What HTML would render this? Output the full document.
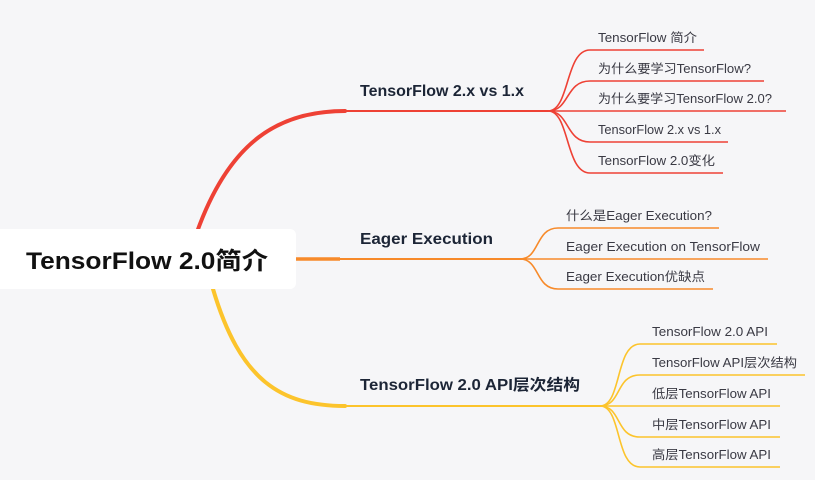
<!DOCTYPE html>
<html><head><meta charset="utf-8"><style>
html,body{margin:0;padding:0;background:#f6f6f8;}
svg{display:block}
text{font-family:"Liberation Sans","Noto Sans CJK SC",sans-serif;}
.c{font-size:12.5px;fill:#3a3a44}
.m{font-size:15.5px;font-weight:bold;fill:#1c2536}
</style></head><body>
<svg width="815" height="480" viewBox="0 0 815 480">
<rect width="815" height="480" fill="#f6f6f8"/>
<path d="M197 232 C230 140 280 111 345 111" fill="none" stroke="#ee4135" stroke-width="4" stroke-linecap="round"/>
<path d="M340 111 L548 111" stroke="#ee4135" stroke-width="2" fill="none"/>
<g fill="none" stroke="#ee4135" stroke-width="1.6">
<path d="M548 111 C570 111 565 50 590 50 L704 50"/>
<path d="M548 111 C570 111 565 81 590 81 L764 81"/>
<path d="M548 111 L786 111"/>
<path d="M548 111 C570 111 565 142 590 142 L728 142"/>
<path d="M548 111 C570 111 565 173 590 173 L723 173"/>
</g>
<path d="M296 259 L340 259" stroke="#f78a2a" stroke-width="3.5"/>
<path d="M340 259 L522 259" stroke="#f78a2a" stroke-width="2"/>
<g fill="none" stroke="#f78a2a" stroke-width="1.6">
<path d="M520 259 C540 259 535 228 558 228 L719 228"/>
<path d="M520 259 L768 259"/>
<path d="M520 259 C540 259 535 289 558 289 L713 289"/>
</g>
<path d="M213 289 C240 380 280 406 345 406" fill="none" stroke="#fcc42c" stroke-width="4" stroke-linecap="round"/>
<path d="M340 406 L602 406" stroke="#fcc42c" stroke-width="2"/>
<g fill="none" stroke="#fcc42c" stroke-width="1.6">
<path d="M600 406 C622 406 615 344 640 344 L777 344"/>
<path d="M600 406 C622 406 615 375 640 375 L805 375"/>
<path d="M600 406 L780 406"/>
<path d="M600 406 C622 406 615 437 640 437 L780 437"/>
<path d="M600 406 C622 406 615 467 640 467 L780 467"/>
</g>
<rect x="-6" y="229" width="302" height="60" rx="6" fill="#ffffff"/>
<text x="26" y="269" font-size="24" font-weight="bold" fill="#111" textLength="242" lengthAdjust="spacingAndGlyphs">TensorFlow 2.0简介</text>
<text class="m" x="360" y="96" textLength="164" lengthAdjust="spacingAndGlyphs">TensorFlow 2.x vs 1.x</text>
<text class="m" x="360" y="244" textLength="133" lengthAdjust="spacingAndGlyphs">Eager Execution</text>
<text class="m" x="360" y="390" textLength="220" lengthAdjust="spacingAndGlyphs">TensorFlow 2.0 API层次结构</text>
<text class="c" x="598" y="42" textLength="99" lengthAdjust="spacingAndGlyphs">TensorFlow 简介</text>
<text class="c" x="598" y="73" textLength="153" lengthAdjust="spacingAndGlyphs">为什么要学习TensorFlow?</text>
<text class="c" x="598" y="103" textLength="174" lengthAdjust="spacingAndGlyphs">为什么要学习TensorFlow 2.0?</text>
<text class="c" x="598" y="134" textLength="123" lengthAdjust="spacingAndGlyphs">TensorFlow 2.x vs 1.x</text>
<text class="c" x="598" y="165" textLength="117" lengthAdjust="spacingAndGlyphs">TensorFlow 2.0变化</text>
<text class="c" x="566" y="220" textLength="146" lengthAdjust="spacingAndGlyphs">什么是Eager Execution?</text>
<text class="c" x="566" y="251" textLength="194" lengthAdjust="spacingAndGlyphs">Eager Execution on TensorFlow</text>
<text class="c" x="566" y="281" textLength="139" lengthAdjust="spacingAndGlyphs">Eager Execution优缺点</text>
<text class="c" x="652" y="336" textLength="116" lengthAdjust="spacingAndGlyphs">TensorFlow 2.0 API</text>
<text class="c" x="652" y="367" textLength="145" lengthAdjust="spacingAndGlyphs">TensorFlow API层次结构</text>
<text class="c" x="652" y="398" textLength="119" lengthAdjust="spacingAndGlyphs">低层TensorFlow API</text>
<text class="c" x="652" y="429" textLength="119" lengthAdjust="spacingAndGlyphs">中层TensorFlow API</text>
<text class="c" x="652" y="459" textLength="119" lengthAdjust="spacingAndGlyphs">高层TensorFlow API</text>
</svg>
</body></html>
